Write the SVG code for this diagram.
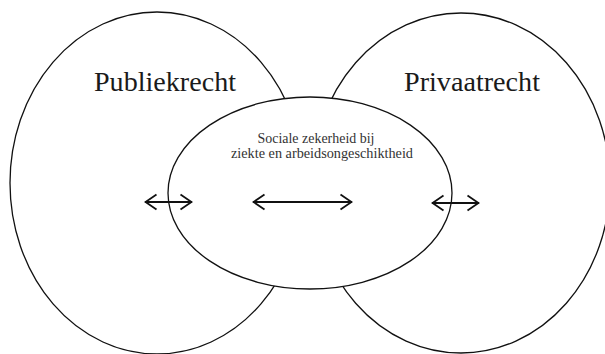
<svg xmlns="http://www.w3.org/2000/svg" width="605" height="354" viewBox="0 0 605 354">
  <style>
    .outer { fill: none; stroke: #111; stroke-width: 1.3; }
    .inner { fill: #fff; stroke: #111; stroke-width: 1.3; }
    .big { font-family: "Liberation Serif", "DejaVu Serif", serif; font-size: 28px; fill: #1a1a1a; }
    .small { font-family: "Liberation Serif", "DejaVu Serif", serif; font-size: 14px; fill: #333; text-anchor: middle; }
    .arrow { stroke: #111; stroke-width: 1.8; fill: none; marker-start: url(#head); marker-end: url(#head); }
  </style>
  <defs>
    <marker id="head" viewBox="0 0 14 18" refX="13" refY="9" markerWidth="14" markerHeight="18" markerUnits="userSpaceOnUse" orient="auto-start-reverse">
      <path d="M1.5,1.5 L12.5,9 L1.5,16.5" fill="none" stroke="#111" stroke-width="1.8" stroke-linejoin="miter"/>
    </marker>
  </defs>
  <rect width="605" height="354" fill="#fff"/>
  <g id="publiekrecht">
    <ellipse class="outer" cx="157" cy="183" rx="147" ry="171"/>
    <text class="big" x="94" y="91" textLength="142" lengthAdjust="spacingAndGlyphs">Publiekrecht</text>
  </g>
  <g id="privaatrecht">
    <ellipse class="outer" cx="461" cy="183" rx="149" ry="170"/>
    <text class="big" x="404" y="91" textLength="136" lengthAdjust="spacingAndGlyphs">Privaatrecht</text>
  </g>
  <g id="sociale-zekerheid">
    <ellipse class="inner" cx="310" cy="193" rx="142" ry="96"/>
    <text class="small" x="316" y="143" textLength="117" lengthAdjust="spacingAndGlyphs">Sociale zekerheid bij</text>
    <text class="small" x="322" y="158" textLength="182" lengthAdjust="spacingAndGlyphs">ziekte en arbeidsongeschiktheid</text>
  </g>
  <g id="connectors">
    <line class="arrow" x1="145" y1="202" x2="192" y2="202"/>
    <line class="arrow" x1="253" y1="202" x2="352" y2="202"/>
    <line class="arrow" x1="432" y1="203" x2="479" y2="203"/>
  </g>
</svg>
